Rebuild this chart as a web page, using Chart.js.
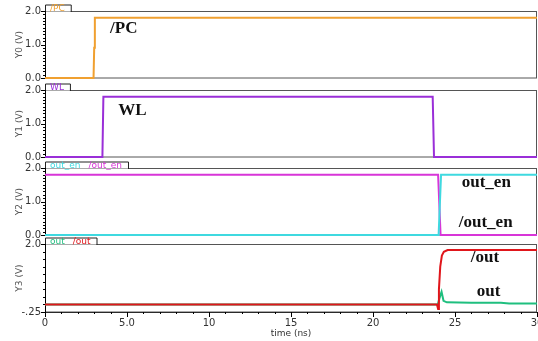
<!DOCTYPE html>
<html>
<head>
<meta charset="utf-8">
<script src="https://cdn.jsdelivr.net/npm/chart.js@4.4.0/dist/chart.umd.min.js"></script>
<style>
  html, body { margin: 0; padding: 0; background: #fff; }
  #wrap { position: relative; width: 538px; height: 341px; overflow: hidden; }
  canvas { position: absolute; left: 0; }
</style>
</head>
<body>
<div id="wrap">
  <canvas id="p0" width="538" height="92" style="top:0px"></canvas>
  <canvas id="p1" width="538" height="92" style="top:80px"></canvas>
  <canvas id="p2" width="538" height="92" style="top:158px"></canvas>
  <canvas id="p3" width="538" height="105" style="top:236px"></canvas>
</div>
<script>
// time axis (ns)
const timeTicks = [0, 5, 10, 15, 20, 25, 30];
const timeLabels = ['0', '5.0', '10', '15', '20', '25', '30'];

// voltage ticks
const voltTicks = [0, 1, 2];
const voltLabels = ['0.0', '1.0', '2.0'];
const volt3Ticks = [-0.25, 2];
const volt3Labels = ['-.25', '2.0'];

// Y0: /PC
const pcTime = [0, 2.96, 3.0, 3.04, 30];
const pcVolt = [0, 0, 0.9, 1.8, 1.8];

// Y1: WL
const wlTime = [0, 3.5, 3.56, 23.64, 23.72, 30];
const wlVolt = [0, 0, 1.8, 1.8, 0, 0];

// Y2: out_en, /out_en
const outEnTime = [0, 24.0, 24.15, 30];
const outEnVolt = [0, 0, 1.8, 1.8];
const outEnBarTime = [0, 23.97, 24.12, 30];
const outEnBarVolt = [1.8, 1.8, 0, 0];

// Y3: out, /out
const outBarTime = [0, 23.9, 23.97, 24.02, 24.1, 24.2, 24.32, 24.55, 30];
const outBarVolt = [0, 0, -0.15, 0.5, 1.25, 1.62, 1.74, 1.8, 1.8];
const outTime = [0, 23.95, 24.05, 24.18, 24.3, 24.5, 26, 27.8, 28.3, 30];
const outVolt = [0, 0, 0.2, 0.42, 0.12, 0.07, 0.06, 0.06, 0.03, 0.03];

function pts(t, v) { return t.map((x, i) => ({ x: x, y: v[i] })); }

const scopeDecor = {
  id: 'scopeDecor',
  beforeDatasetsDraw(chart, args, opts) {
    const { ctx, chartArea: a } = chart;
    const ys = chart.scales.y, xs = chart.scales.x;
    ctx.save();
    // frame
    ctx.strokeStyle = '#555';
    ctx.lineWidth = 1;
    ctx.strokeRect(a.left + 0.5, a.top + 0.5, a.right - a.left - 1, a.bottom - a.top - 0.5);
    // left axis line
    ctx.strokeStyle = '#000';
    ctx.beginPath();
    ctx.moveTo(a.left + 0.5, a.top);
    ctx.lineTo(a.left + 0.5, a.bottom);
    ctx.stroke();
    // y ticks
    const yMin = ys.min, yMax = ys.max;
    for (let v = yMin; v <= yMax + 1e-6; v += opts.yMinor) {
      const py = Math.round(ys.getPixelForValue(v)) + 0.5;
      ctx.beginPath();
      ctx.moveTo(a.left, py);
      ctx.lineTo(a.left - 2, py);
      ctx.stroke();
    }
    ys.ticks.forEach(t => {
      const py = Math.round(ys.getPixelForValue(t.value)) + 0.5;
      ctx.beginPath();
      ctx.moveTo(a.left, py);
      ctx.lineTo(a.left - 4, py);
      ctx.stroke();
    });
    // x ticks
    if (opts.xTicks) {
      for (let v = 0; v <= 30; v += 1) {
        const px = Math.round(xs.getPixelForValue(v)) + 0.5;
        const len = v % 5 === 0 ? 5 : 2;
        ctx.beginPath();
        ctx.moveTo(px, a.bottom);
        ctx.lineTo(px, a.bottom + len);
        ctx.stroke();
      }
    }
    // legend tab
    ctx.font = '9px "DejaVu Sans"';
    let tx = a.left + 5;
    const items = opts.tabs.map(tb => {
      const it = { text: tb.text, color: tb.color, x: tx };
      tx += ctx.measureText(tb.text).width + 8;
      return it;
    });
    const tabRight = tx - 2;
    const tabTop = a.top - 6.5;
    ctx.fillStyle = '#fff';
    ctx.fillRect(a.left + 1, tabTop, tabRight - a.left - 1, 7);
    ctx.strokeStyle = '#222';
    ctx.beginPath();
    ctx.moveTo(a.left + 0.5, a.top);
    ctx.lineTo(a.left + 0.5, tabTop + 0.5);
    ctx.lineTo(tabRight + 0.5, tabTop + 0.5);
    ctx.lineTo(tabRight + 0.5, a.top + 1);
    ctx.stroke();
    ctx.textBaseline = 'alphabetic';
    ctx.textAlign = 'left';
    items.forEach(it => {
      ctx.fillStyle = it.color;
      ctx.fillText(it.text, it.x, a.top - 0.5);
    });
    ctx.restore();
  },
  afterDatasetsDraw(chart, args, opts) {
    const { ctx } = chart;
    const ys = chart.scales.y, xs = chart.scales.x;
    ctx.save();
    ctx.fillStyle = '#111';
    ctx.font = 'bold 17px "Liberation Serif"';
    ctx.textBaseline = 'middle';
    ctx.textAlign = 'left';
    opts.notes.forEach(n => {
      ctx.fillText(n.text, xs.getPixelForValue(n.x), ys.getPixelForValue(n.y));
    });
    ctx.restore();
  }
};

function makePanel(id, cfg) {
  const ticks = cfg.yTicks, labels = cfg.yLabels;
  return new Chart(document.getElementById(id), {
    type: 'line',
    data: {
      datasets: cfg.series.map(s => ({
        data: pts(s.t, s.v),
        borderColor: s.color,
        borderWidth: 2,
        pointRadius: 0,
        tension: 0,
        clip: false
      }))
    },
    options: {
      responsive: false,
      animation: false,
      events: [],
      layout: { autoPadding: false, padding: { left: 0, right: 1, top: cfg.padTop, bottom: cfg.padBottom } },
      plugins: {
        legend: { display: false },
        tooltip: { enabled: false },
        scopeDecor: { tabs: cfg.tabs, notes: cfg.notes, yMinor: cfg.yMinor, xTicks: cfg.showX }
      },
      scales: {
        x: {
          type: 'linear',
          min: 0,
          max: 30,
          display: cfg.showX,
          grid: { display: false, drawTicks: false },
          border: { display: true, color: '#000', width: 1 },
          afterBuildTicks: s => { s.ticks = timeTicks.map(v => ({ value: v })); },
          afterFit: s => { s.height = cfg.showX ? 29 : 0; s.paddingLeft = 0; s.paddingRight = 0; },
          ticks: {
            maxRotation: 0,
            padding: 5,
            color: '#333',
            font: { family: 'DejaVu Sans', size: 10 },
            callback: v => timeLabels[timeTicks.indexOf(v)]
          },
          title: {
            display: true,
            text: 'time (ns)',
            color: '#333',
            font: { family: 'DejaVu Sans', size: 9 },
            padding: { top: 0, bottom: 2 }
          }
        },
        y: {
          min: cfg.yMin,
          max: 2,
          grid: { display: false, drawTicks: false },
          border: { display: true, color: '#000', width: 1 },
          afterBuildTicks: s => { s.ticks = ticks.map(v => ({ value: v })); },
          afterFit: s => { s.width = 45; s.paddingTop = 0; s.paddingBottom = 0; },
          ticks: {
            padding: 4,
            color: '#333',
            font: { family: 'DejaVu Sans', size: 10 },
            callback: v => labels[ticks.indexOf(v)]
          },
          title: {
            display: true,
            text: cfg.yTitle,
            color: '#555',
            font: { family: 'DejaVu Sans', size: 9 },
            padding: { top: 14.6, bottom: 0 }
          }
        }
      }
    },
    plugins: [scopeDecor]
  });
}

makePanel('p0', {
  padTop: 11, padBottom: 14, showX: false, yMin: 0, yMinor: 0.1, yTitle: 'Y0 (V)',
  yTicks: voltTicks, yLabels: voltLabels,
  tabs: [{ text: '/PC', color: '#F0A030' }],
  notes: [{ text: '/PC', x: 3.97, y: 1.46 }],
  series: [{ t: pcTime, v: pcVolt, color: '#F0A030' }]
});

makePanel('p1', {
  padTop: 10, padBottom: 15, showX: false, yMin: 0, yMinor: 0.1, yTitle: 'Y1 (V)',
  yTicks: voltTicks, yLabels: voltLabels,
  tabs: [{ text: 'WL', color: '#9A2FD8' }],
  notes: [{ text: 'WL', x: 4.46, y: 1.38 }],
  series: [{ t: wlTime, v: wlVolt, color: '#9A2FD8' }]
});

makePanel('p2', {
  padTop: 10, padBottom: 15, showX: false, yMin: 0, yMinor: 0.1, yTitle: 'Y2 (V)',
  yTicks: voltTicks, yLabels: voltLabels,
  tabs: [{ text: 'out_en', color: '#3FD9E0' }, { text: '/out_en', color: '#D835D8' }],
  notes: [{ text: 'out_en', x: 25.41, y: 1.56 }, { text: '/out_en', x: 25.23, y: 0.36 }],
  series: [
    { t: outEnTime, v: outEnVolt, color: '#3FD9E0' },
    { t: outEnBarTime, v: outEnBarVolt, color: '#D835D8' }
  ]
});

makePanel('p3', {
  padTop: 8, padBottom: 0, showX: true, yMin: -0.25, yMinor: 0.25, yTitle: 'Y3 (V)',
  yTicks: volt3Ticks, yLabels: volt3Labels,
  tabs: [{ text: 'out', color: '#1FBF7F' }, { text: '/out', color: '#E0161B' }],
  notes: [{ text: '/out', x: 25.96, y: 1.55 }, { text: 'out', x: 26.33, y: 0.42 }],
  series: [
    { t: outBarTime, v: outBarVolt, color: '#E0161B' },
    { t: outTime, v: outVolt, color: '#1FBF7F' }
  ]
});
</script>
</body>
</html>
